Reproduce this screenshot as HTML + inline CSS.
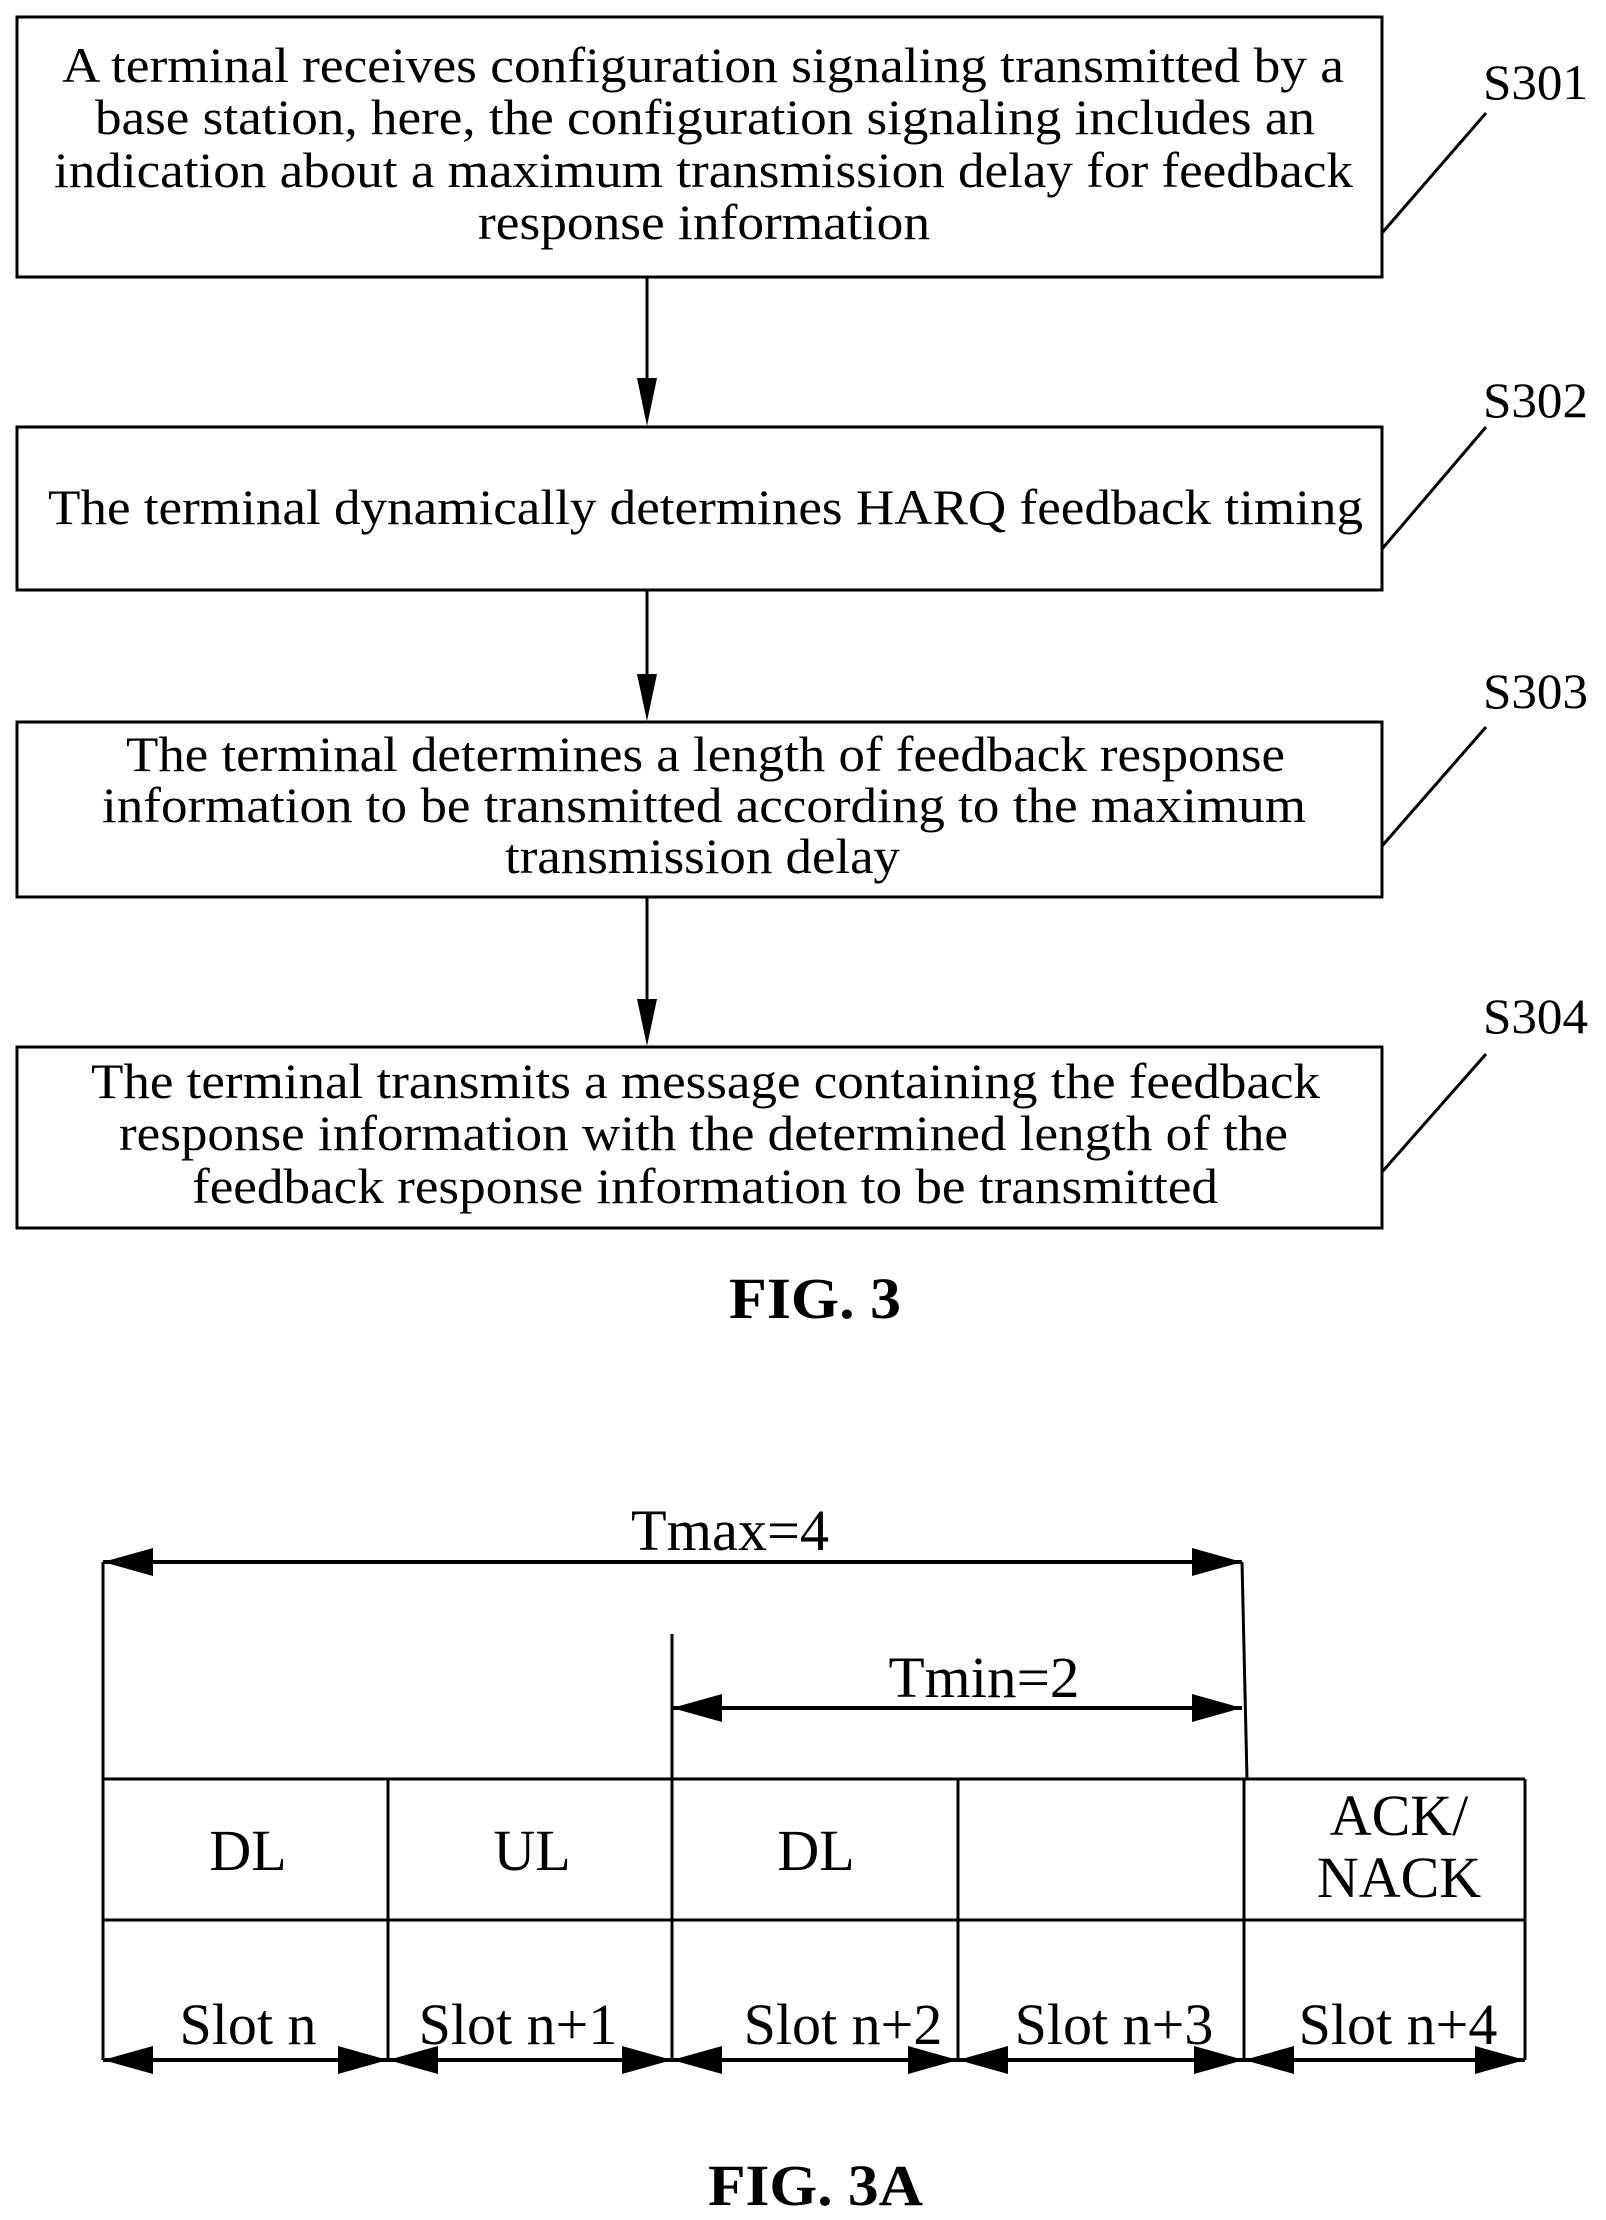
<!DOCTYPE html>
<html><head><meta charset="utf-8"><style>html,body{margin:0;padding:0;background:#fff}svg{display:block}</style></head>
<body>
<svg width="1606" height="2220" viewBox="0 0 1606 2220" xmlns="http://www.w3.org/2000/svg" font-family="'Liberation Serif', serif" fill="#000">
<defs>
<marker id="ah" markerWidth="50" markerHeight="28" refX="50" refY="14" orient="auto" markerUnits="userSpaceOnUse"><path d="M0,0 L50,14 L0,28 z" fill="#000"/></marker>
<marker id="as" markerWidth="50" markerHeight="28" refX="0" refY="14" orient="auto" markerUnits="userSpaceOnUse"><path d="M50,0 L0,14 L50,28 z" fill="#000"/></marker>
</defs>
<g fill="none" stroke="#000" stroke-width="3">
<rect x="17" y="17" width="1365" height="260"/>
<rect x="17" y="427" width="1365" height="163"/>
<rect x="17" y="722" width="1365" height="175"/>
<rect x="17" y="1047" width="1365" height="181"/>
<line x1="1382" y1="233" x2="1486" y2="113"/>
<line x1="1382" y1="549" x2="1486" y2="427"/>
<line x1="1382" y1="846" x2="1486" y2="727"/>
<line x1="1382" y1="1172" x2="1486" y2="1054"/>
</g>
<g stroke="#000" stroke-width="3">
<line x1="647" y1="277" x2="647" y2="380"/>
<line x1="647" y1="590" x2="647" y2="680"/>
<line x1="647" y1="897" x2="647" y2="1000"/>
</g>
<path d="M637,378 L657,378 L647,426 z"/>
<path d="M637,674 L657,674 L647,721 z"/>
<path d="M637,999 L657,999 L647,1046 z"/>
<g font-size="50">
<text x="62" y="82" textLength="1282" lengthAdjust="spacingAndGlyphs">A terminal receives configuration signaling transmitted by a</text>
<text x="95" y="134" textLength="1220" lengthAdjust="spacingAndGlyphs">base station, here, the configuration signaling includes an</text>
<text x="54" y="187" textLength="1299" lengthAdjust="spacingAndGlyphs">indication about a maximum transmission delay for feedback</text>
<text x="478" y="239" textLength="452" lengthAdjust="spacingAndGlyphs">response information</text>
<text x="48" y="524" textLength="1315" lengthAdjust="spacingAndGlyphs">The terminal dynamically determines HARQ feedback timing</text>
<text x="126" y="771" textLength="1159" lengthAdjust="spacingAndGlyphs">The terminal determines a length of feedback response</text>
<text x="102" y="822" textLength="1204" lengthAdjust="spacingAndGlyphs">information to be transmitted according to the maximum</text>
<text x="505" y="873" textLength="395" lengthAdjust="spacingAndGlyphs">transmission delay</text>
<text x="91" y="1098" textLength="1229" lengthAdjust="spacingAndGlyphs">The terminal transmits a message containing the feedback</text>
<text x="119" y="1150" textLength="1169" lengthAdjust="spacingAndGlyphs">response information with the determined length of the</text>
<text x="192" y="1203" textLength="1026" lengthAdjust="spacingAndGlyphs">feedback response information to be transmitted</text>
<text x="1483" y="99" textLength="105" lengthAdjust="spacingAndGlyphs">S301</text>
<text x="1483" y="417" textLength="105" lengthAdjust="spacingAndGlyphs">S302</text>
<text x="1483" y="708" textLength="105" lengthAdjust="spacingAndGlyphs">S303</text>
<text x="1483" y="1033" textLength="105" lengthAdjust="spacingAndGlyphs">S304</text>
</g>
<text x="729" y="1318" font-size="58" font-weight="bold" textLength="172" lengthAdjust="spacingAndGlyphs">FIG. 3</text>

<!-- Fig 3A -->
<g stroke="#000" stroke-width="3" fill="none">
<line x1="103" y1="1562" x2="103" y2="2060"/>
<line x1="1242" y1="1562" x2="1247" y2="1779"/>
<line x1="672" y1="1634" x2="672" y2="1779"/>
<line x1="103" y1="1779" x2="1525" y2="1779"/>
<line x1="103" y1="1920" x2="1525" y2="1920"/>
<line x1="388" y1="1779" x2="388" y2="2060"/>
<line x1="672" y1="1779" x2="672" y2="2060"/>
<line x1="958" y1="1779" x2="958" y2="2060"/>
<line x1="1244" y1="1779" x2="1244" y2="2060"/>
<line x1="1525" y1="1779" x2="1525" y2="2060"/>
<line x1="103" y1="1562" x2="1242" y2="1562" stroke-width="4" marker-start="url(#as)" marker-end="url(#ah)"/>
<line x1="672" y1="1708" x2="1242" y2="1708" stroke-width="4" marker-start="url(#as)" marker-end="url(#ah)"/>
<line x1="103" y1="2060" x2="388" y2="2060" stroke-width="4" marker-start="url(#as)" marker-end="url(#ah)"/>
<line x1="388" y1="2060" x2="672" y2="2060" stroke-width="4" marker-start="url(#as)" marker-end="url(#ah)"/>
<line x1="672" y1="2060" x2="958" y2="2060" stroke-width="4" marker-start="url(#as)" marker-end="url(#ah)"/>
<line x1="958" y1="2060" x2="1244" y2="2060" stroke-width="4" marker-start="url(#as)" marker-end="url(#ah)"/>
<line x1="1244" y1="2060" x2="1525" y2="2060" stroke-width="4" marker-start="url(#as)" marker-end="url(#ah)"/>
</g>
<g font-size="58" text-anchor="middle">
<text x="730" y="1550" textLength="198" lengthAdjust="spacingAndGlyphs">Tmax=4</text>
<text x="984" y="1697" textLength="191" lengthAdjust="spacingAndGlyphs">Tmin=2</text>
<text x="248" y="1870">DL</text>
<text x="532" y="1870">UL</text>
<text x="816" y="1870">DL</text>
<text x="1399" y="1835">ACK/</text>
<text x="1399" y="1897">NACK</text>
<text x="248" y="2044">Slot n</text>
<text x="518" y="2044">Slot n+1</text>
<text x="843" y="2044">Slot n+2</text>
<text x="1114" y="2044">Slot n+3</text>
<text x="1398" y="2044">Slot n+4</text>
</g>
<text x="708" y="2205" font-size="58" font-weight="bold" textLength="215" lengthAdjust="spacingAndGlyphs">FIG. 3A</text>
</svg>
</body></html>
